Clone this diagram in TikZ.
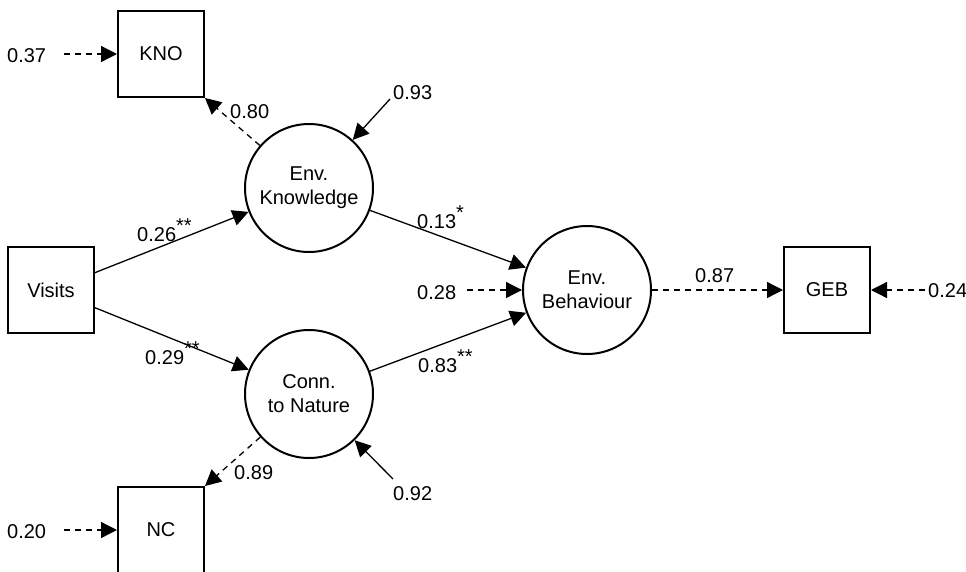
\documentclass[tikz,border=0pt]{standalone}
\usepackage{fontspec}
\setmainfont{Liberation Sans}
\usetikzlibrary{arrows.meta}
\begin{document}
\begin{tikzpicture}[x=1pt,y=-1pt,
  every node/.style={font=\fontsize{20}{24}\selectfont},
  obsbox/.style={draw,line width=2pt,minimum width=86pt,minimum height=86pt,inner sep=0pt},
  latent/.style={draw,circle,line width=2pt,minimum size=128pt,inner sep=0pt,align=center},
  arr/.style={line width=1.3pt,-{Triangle[length=16pt,width=16pt]}},
  dasharr/.style={arr,dash pattern=on 6pt off 5pt},
  lbl/.style={inner sep=0pt,anchor=base west},
  stars/.style={}
]
\useasboundingbox (0,0) rectangle (966,571);
% observed
\node[obsbox] (KNO) at (161,54) {KNO};
\node[obsbox] (NC) at (161,530) {NC};
\node[obsbox] (Visits) at (51,290) {Visits};
\node[obsbox] (GEB) at (827,290) {GEB};
% latent
\node[latent] (EK) at (309,188) {Env.\\Knowledge};
\node[latent] (CN) at (309,394) {Conn.\\to Nature};
\node[latent] (EB) at (587,290) {Env.\\Behaviour};
% error sources
\coordinate (s37) at (64,54);
\coordinate (s20) at (64,530);
\coordinate (s28) at (467,290);
\coordinate (s24) at (925,290);
\coordinate (s93) at (390,99);
\coordinate (s92) at (393,479);
% labels
\node[lbl] (l37) at (7,62) {0.37};
\node[lbl] (l20) at (7,538) {0.20};
\node[lbl] (l28) at (417,299) {0.28};
\node[lbl] (l24) at (928,297) {0.24};
\node[lbl] (l93) at (393,99) {0.93};
\node[lbl] (l92) at (393,500) {0.92};
\node[lbl] (l80) at (230,118) {0.80};
\node[lbl] (l89) at (234,479) {0.89};
\node[lbl] (l87) at (695,282) {0.87};
\node[lbl] (l26) at (137,241) {0.26\raisebox{9pt}{**}};
\node[lbl] (l29) at (145,364) {0.29\raisebox{9pt}{**}};
\node[lbl] (l13) at (417,228) {0.13\raisebox{9pt}{*}};
\node[lbl] (l83) at (418,372) {0.83\raisebox{9pt}{**}};
% connectors
\draw[dasharr] (s37) -- (KNO.west);
\draw[dasharr] (s20) -- (NC.west);
\draw[dasharr] (s28) -- (EB.west);
\draw[dasharr] (s24) -- (GEB.east);
\draw[arr] (s93) -- (EK);
\draw[arr] (s92) -- (CN);
\draw[dasharr] (EK) -- (KNO.south east);
\draw[dasharr] (CN) -- (NC.north east);
\draw[arr] (Visits) -- (EK);
\draw[arr] (Visits) -- (CN);
\draw[arr] (EK) -- (EB);
\draw[arr] (CN) -- (EB);
\draw[dasharr] (EB.east) -- (GEB.west);
\end{tikzpicture}
\end{document}
